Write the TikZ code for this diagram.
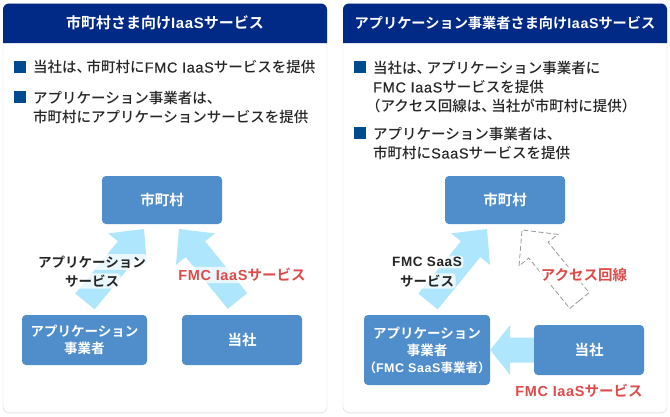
\documentclass[tikz,border=0pt]{standalone}
\usepackage{fontspec}
\usetikzlibrary{
  calc,
  shadows
}
\setmainfont{Noto Sans CJK JP Medium}[BoldFont=Noto Sans CJK JP Bold]
\newfontfamily\latfont{Liberation Sans}[LetterSpace=4.5,UprightFeatures={FakeBold=.3}]
\newcommand{\lat}[1]{{\latfont #1}}
\newcommand{\tou}{、\kern-4.5pt}
\definecolor{navy}{HTML}{002A86}
\definecolor{boxblue}{HTML}{4F8DCB}
\definecolor{skyblue}{HTML}{AEE6FD}
\definecolor{bulletblue}{HTML}{004A8F}
\definecolor{labelred}{HTML}{DE4B4B}

\begin{document}
\begin{tikzpicture}[
      x=1pt,y=-1pt,
      panel/.style={
         rectangle,
         minimum width=324pt,
         minimum height=409pt,
         rounded corners=6pt,
         draw=black!14,
         fill=white,
         drop shadow={shadow xshift=0pt,shadow yshift=-1pt,opacity=.12}
      },
      heading/.style={
         text=white,
         font=\fontsize{14.5}{18}\selectfont\bfseries
      },
      bullet/.style={
         rectangle,
         minimum size=12pt,
         inner sep=0pt,
         fill=bulletblue
      },
      bodytext/.style={
         anchor=north west,
         inner sep=0pt,
         align=left,
         text=black!85,
         font=\fontsize{14.5}{19}\selectfont
      },
      party/.style={
         rectangle,
         rounded corners=4pt,
         fill=boxblue,
         text=white,
         align=center,
         inner sep=0pt,
         font=\fontsize{13.5}{17}\selectfont\bfseries
      },
      halo/.style={
         fill=white,
         fill opacity=.75,
         text opacity=1,
         rounded corners=3pt,
         inner sep=1.5pt
      },
      flowlabel/.style={
         halo,
         align=center,
         text=black!85,
         font=\fontsize{13.5}{19}\selectfont\bfseries
      },
      redlabel/.style={
         inner sep=1pt,
         text=labelred,
         font=\fontsize{14.5}{19}\selectfont\bfseries
      },
      block arrow/.style={
         to path={
            let \p1=($(\tikztotarget)!#1pt!(\tikztostart)$) in
            -- ($(\tikztostart)!12.5pt!90:(\tikztotarget)$)
            -- ($(\p1)!12.5pt!90:(\tikztotarget)$)
            -- ($(\p1)!25pt!90:(\tikztotarget)$)
            -- (\tikztotarget)
            -- ($(\p1)!25pt!-90:(\tikztotarget)$)
            -- ($(\p1)!12.5pt!-90:(\tikztotarget)$)
            -- ($(\tikztostart)!12.5pt!-90:(\tikztotarget)$)
            -- cycle
         }
      },
      block arrow/.default=26,
      service/.style={fill=skyblue},
      access/.style={draw=black!40,line width=.8pt,dash pattern=on 5pt off 2.5pt,fill=white}
    ]
    \useasboundingbox (0,0) rectangle (670,416);
    % panels
    \node (panelL) [panel] at (165,208) {};
    \node (panelR) [panel] at (505,208) {};
    \fill[navy] (3,43) [rounded corners=6pt] -- (3,3.5) -- (327,3.5) [sharp corners] -- (327,43) -- cycle;
    \fill[navy] (343,43) [rounded corners=6pt] -- (343,3.5) -- (667,3.5) [sharp corners] -- (667,43) -- cycle;
    \node (headL) [heading] at (165,23) {\fontsize{15}{18}\selectfont 市町村さま向け\lat{IaaS}サービス};
    \node (headR) [heading] at (505,23) {\fontsize{14.2}{18}\selectfont アプリケーション事業者さま向け\lat{IaaS}サービス};
    % left text
    \node (bulL1) [bullet] at (20,67) {};
    \node (textL1) [bodytext] at (33,60) {当社は\tou 市町村に\lat{FMC IaaS}サービスを提供};
    \node (bulL2) [bullet] at (20,97) {};
    \node (textL2) [bodytext] at (33,91) {アプリケーション事業者は、\\市町村にアプリケーションサービスを提供};
    % right text
    \node (bulR1) [bullet] at (360,67) {};
    \node (textR1) [bodytext] at (373,61) {当社は\tou アプリケーション事業者に\\\lat{FMC IaaS}サービスを提供\\\kern-7pt（アクセス回線は\tou 当社が市町村に提供）};
    \node (bulR2) [bullet] at (360,133) {};
    \node (textR2) [bodytext] at (373,127) {アプリケーション事業者は、\\市町村に\lat{SaaS}サービスを提供};
    % left diagram
    \node (cityL) [party,minimum width=120pt,minimum height=48pt] at (162,200) {\fontsize{14.5}{17}\selectfont 市町村};
    \node (appL) [party,minimum width=125pt,minimum height=50pt] at (84.5,340) {アプリケーション\\事業者};
    \node (usL) [party,minimum width=120pt,minimum height=50pt] at (242,340) {\fontsize{14.5}{17}\selectfont 当社};
    \coordinate (tipL1) at (144,229);
    \coordinate (tailL1) at (85,301.5);
    \coordinate (tipL2) at (179,229);
    \coordinate (tailL2) at (237.5,301);
    \path[service] (tailL1) to[block arrow] (tipL1);
    \path[service] (tailL2) to[block arrow] (tipL2);
    \node (labL1a) [flowlabel] at (92,262) {アプリケーション};
    \node (labL1b) [flowlabel] at (92,281) {サービス};
    \node (labL2) [redlabel,halo] at (242,275) {\lat{FMC IaaS}サービス};
    % right diagram
    \node (cityR) [party,minimum width=120pt,minimum height=48pt] at (505,200) {\fontsize{14.5}{17}\selectfont 市町村};
    \node (appR) [party,minimum width=126pt,minimum height=70pt] at (427,350) {アプリケーション\\事業者\\{\fontsize{12.5}{17}\selectfont\kern-6pt（\lat{FMC SaaS}事業者）\kern-6pt}};
    \node (usR) [party,minimum width=110pt,minimum height=50pt] at (589,350) {\fontsize{14.5}{17}\selectfont 当社};
    \coordinate (tipR1) at (487,229);
    \coordinate (tailR1) at (428,301.5);
    \coordinate (tipR2) at (522,230);
    \coordinate (tailR2) at (579.5,300.5);
    \path[service] (tailR1) to[block arrow] (tipR1);
    \path[access] (tailR2) to[block arrow] (tipR2);
    \path[service] (usR.west) to[block arrow=20] (appR.east);
    \node (labR1a) [flowlabel] at (427,262) {\lat{FMC SaaS}};
    \node (labR1b) [flowlabel] at (427,281) {サービス};
    \node (labR2) [redlabel,halo] at (584,275) {アクセス回線};
    \node (labR3) [redlabel] at (579,391) {\lat{FMC IaaS}サービス};
\end{tikzpicture}
\end{document}
